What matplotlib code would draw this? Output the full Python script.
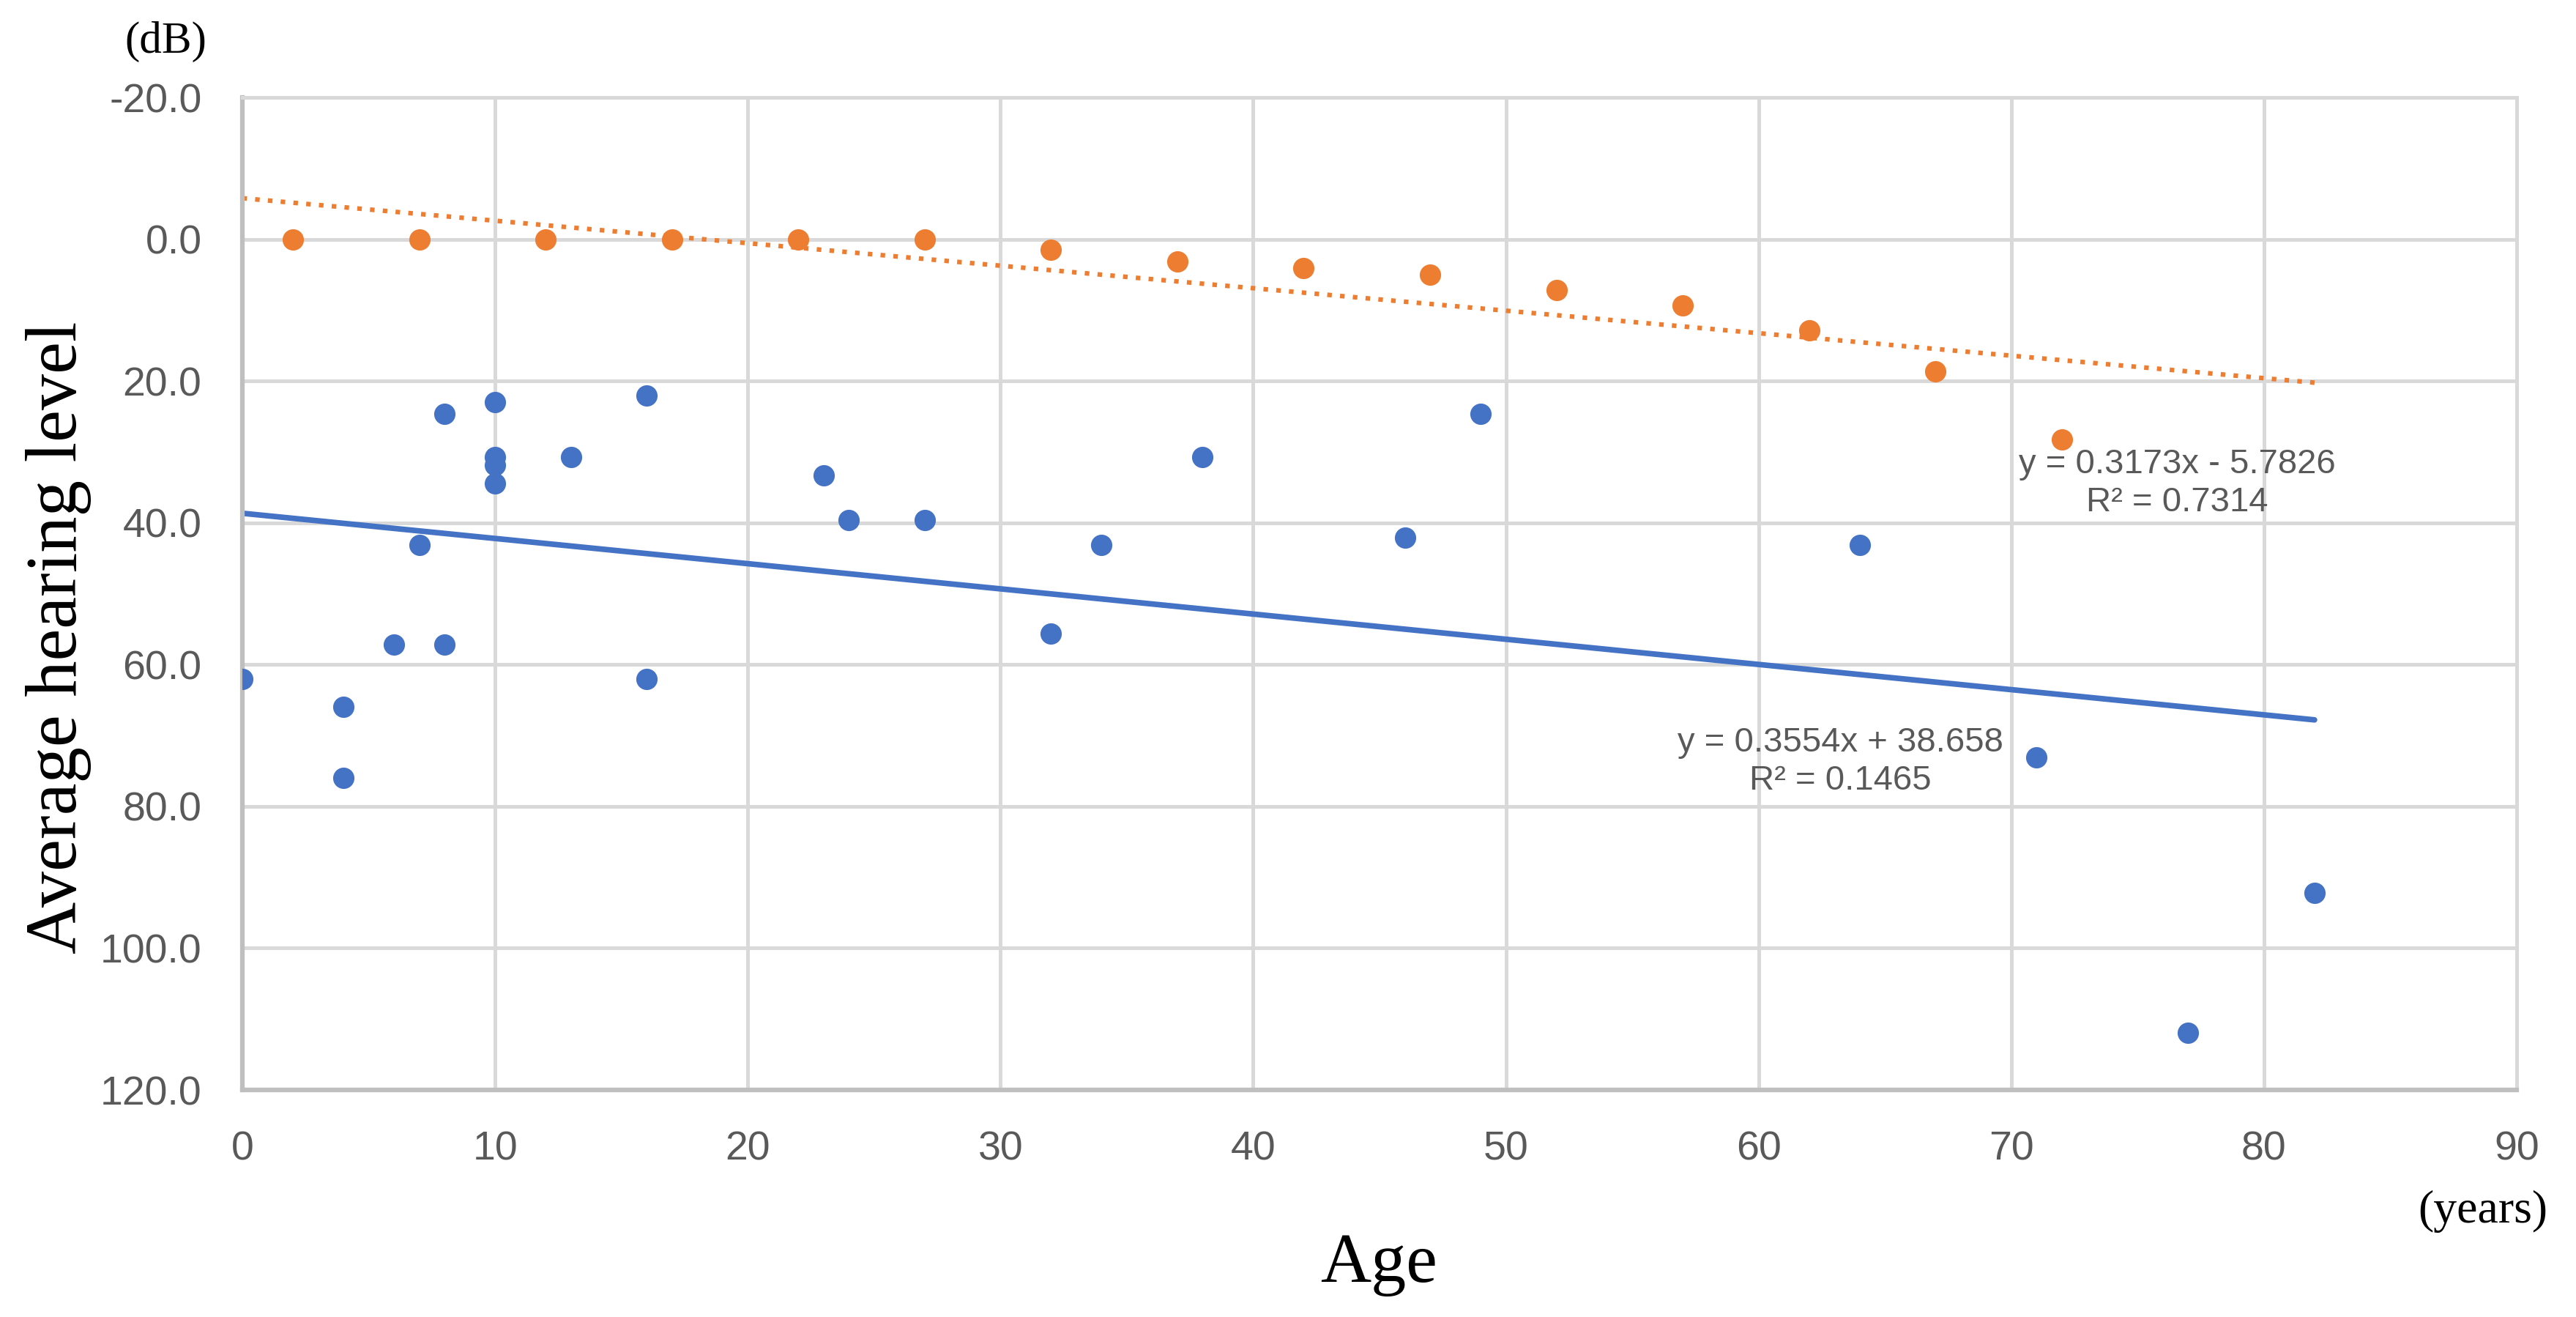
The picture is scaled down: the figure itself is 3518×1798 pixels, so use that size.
import numpy as np
import matplotlib.pyplot as plt

plt.rcParams['axes.unicode_minus'] = False

# Data
blue_age = [0, 4, 4, 6, 7, 8, 8, 10, 10, 10, 10, 13, 16, 16, 23, 24, 27,
            32, 34, 38, 46, 49, 64, 71, 77, 82]
blue_level = [62.0, 66.0, 76.0, 57.2, 43.1, 24.6, 57.2, 23.0, 30.7, 31.9, 34.4,
              30.7, 22.0, 62.0, 33.3, 39.6, 39.6, 55.6, 43.1, 30.7, 42.1, 24.6,
              43.1, 73.1, 111.9, 92.2]

orange_age = [2, 7, 12, 17, 22, 27, 32, 37, 42, 47, 52, 57, 62, 67, 72]
orange_level = [0.0, 0.0, 0.0, 0.0, 0.0, 0.0, 1.5, 3.1, 4.1, 5.0, 7.2, 9.3,
                12.9, 18.6, 28.3]

# trendline coefficients as printed on the chart
blue_slope, blue_icpt = 0.3554, 38.658
orange_slope, orange_icpt = 0.3173, -5.7826
trend_x = np.array([0, 82])

blue = '#4472C4'
orange = '#ED7D31'
grid_c = '#D9D9D9'
text_c = '#595959'
sans = ['Liberation Sans Narrow', 'Liberation Sans', 'DejaVu Sans']
serif = ['Liberation Serif', 'DejaVu Serif']

fig = plt.figure(figsize=(35.18, 17.98), dpi=100)
ax = fig.add_axes([331 / 3518, 1 - 1488 / 1798, (3437 - 331) / 3518, (1488 - 133) / 1798])

ax.scatter(blue_age, blue_level, s=440, color=blue, zorder=3, linewidths=0)
ax.scatter(orange_age, orange_level, s=440, color=orange, zorder=3, linewidths=0)

ax.plot(trend_x, blue_slope * trend_x + blue_icpt, color=blue, lw=5.5, zorder=2,
        solid_capstyle='round')
ax.plot(trend_x, orange_slope * trend_x + orange_icpt, color=orange, lw=4.5,
        linestyle=(0, (1, 1.8)), zorder=2)

ax.set_xlim(0, 90)
ax.set_ylim(120, -20)
ax.set_xticks(np.arange(0, 91, 10))
ax.set_yticks(np.arange(-20, 121, 20))
ax.set_yticklabels([f'{v:.1f}' for v in np.arange(-20, 121, 20)])
ax.grid(True, color=grid_c, lw=3.6)
ax.set_axisbelow(True)
ax.tick_params(length=0, pad=40, labelsize=40, labelcolor=text_c)
for lab in ax.get_xticklabels() + ax.get_yticklabels():
    lab.set_family(sans)

for side in ['top', 'right']:
    ax.spines[side].set_color(grid_c)
    ax.spines[side].set_linewidth(3.6)
for side in ['left', 'bottom']:
    ax.spines[side].set_color('#BFBFBF')
    ax.spines[side].set_linewidth(4.5)

# equations
fig.text(2513 / 3518, 1 - 1040 / 1798, 'y = 0.3554x + 38.658\nR² = 0.1465',
         ha='center', va='center', multialignment='center', fontsize=34,
         color=text_c, family=sans, linespacing=1.25)
fig.text(2973 / 3518, 1 - 660 / 1798, 'y = 0.3173x - 5.7826\nR² = 0.7314',
         ha='center', va='center', multialignment='center', fontsize=34,
         color=text_c, family=sans, linespacing=1.25)

# axis labels
fig.text(80 / 3518, 1 - 870 / 1798, 'Average hearing level', rotation=90,
         ha='center', va='center', fontsize=71, family=serif)
fig.text(1883 / 3518, 1 - 1750 / 1798, 'Age', ha='center', va='baseline',
         fontsize=69, family=serif)
fig.text(226 / 3518, 1 - 57 / 1798, '(dB)', ha='center', va='center',
         fontsize=44, family=serif)
fig.text(3391 / 3518, 1 - 1654 / 1798, '(years)', ha='center', va='center',
         fontsize=46, family=serif)

fig.savefig('out.png', dpi=100)
